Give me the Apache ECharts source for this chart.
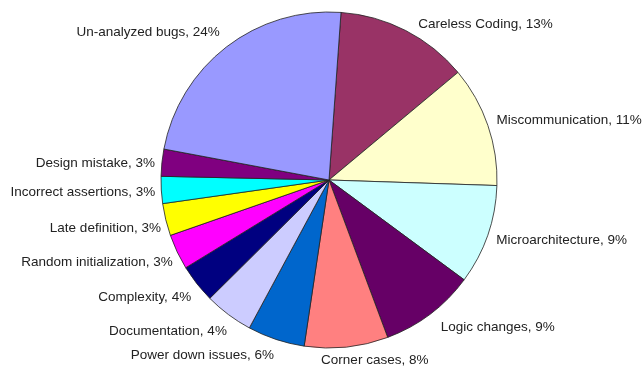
<!DOCTYPE html>
<html>
<head>
<meta charset="utf-8">
<script src="https://cdn.jsdelivr.net/npm/echarts@6/dist/echarts.min.js"></script>
<style>html,body{margin:0;padding:0;background:#fff}#c{width:642px;height:369px}</style>
</head>
<body>
<div id="c"></div>
<script>
var categories = ["Careless Coding","Miscommunication","Microarchitecture","Logic changes","Corner cases","Power down issues","Documentation","Complexity","Random initialization","Late definition","Incorrect assertions","Design mistake","Un-analyzed bugs"];
var values = [12.8, 11.6, 9.6, 9.2, 8.05, 5.5, 4.7, 3.7, 3.4, 3.1, 2.6, 2.6, 23.2];
var labelPct = [13, 11, 9, 9, 8, 6, 4, 4, 3, 3, 3, 3, 24];
var colors = ["#993366","#FFFFCC","#CCFFFF","#660066","#FF8080","#0066CC","#CCCCFF","#000080","#FF00FF","#FFFF00","#00FFFF","#800080","#9999FF"];
// small label nudges (Excel-style placement)
var labelDx = [7, 0, 0, 4, -29, 3, 5, 2, 4, 4, 3, 2, 0];
var labelDy = [-1, -3, 3, 8, 7, 10, 12, 10, 8, 7.5, 2, 1, -9.5];

var chart = echarts.init(document.getElementById('c'), null, {renderer:'canvas'});
var data = categories.map(function(n,i){ return {name:n, value:values[i], itemStyle:{color:colors[i]}}; });
chart.setOption({
  animation:false,
  backgroundColor:'#fff',
  series:[{
    type:'pie',
    center:[329,180],
    radius:168,
    startAngle:85.9,
    clockwise:true,
    avoidLabelOverlap:false,
    data:data,
    itemStyle:{borderColor:'#222',borderWidth:0.8},
    label:{
      show:true,
      position:'outside',
      fontFamily:'"Liberation Sans", Arial, sans-serif',
      fontSize:13.5,
      color:'#222',
      distanceToLabelLine:3,
      formatter:function(p){ return p.name + ', ' + labelPct[p.dataIndex] + '%'; }
    },
    labelLine:{show:false,length:6,length2:0},
    labelLayout:function(p){ return {dx:labelDx[p.dataIndex], dy:labelDy[p.dataIndex]}; },
    emphasis:{disabled:true}
  }]
});
</script>
</body>
</html>
